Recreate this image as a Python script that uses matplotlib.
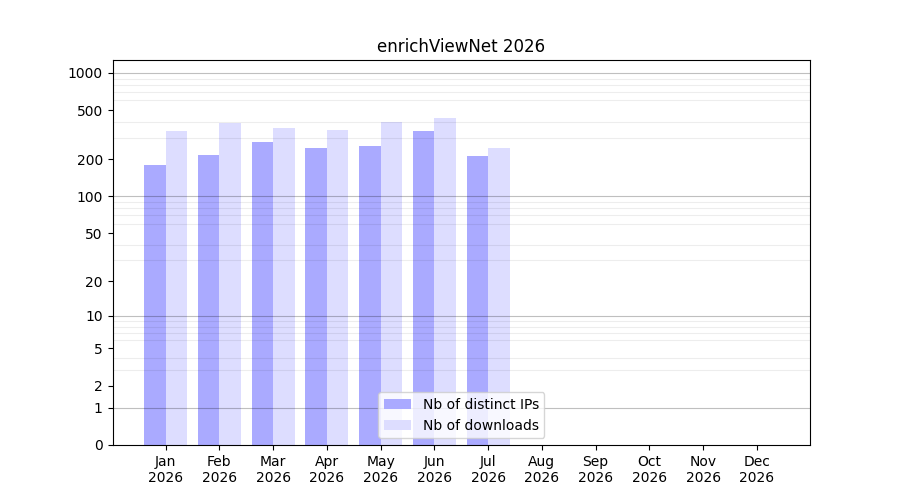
import numpy as np
import matplotlib
matplotlib.use("Agg")
import matplotlib.pyplot as plt
from matplotlib.ticker import FixedLocator

# data
months = ['Jan', 'Feb', 'Mar', 'Apr', 'May', 'Jun', 'Jul', 'Aug', 'Sep', 'Oct', 'Nov', 'Dec']
year = 2026
nb_ips = [180, 217, 277, 248, 257, 340, 213, 0, 0, 0, 0, 0]
nb_downloads = [340, 394, 359, 346, 401, 433, 248, 0, 0, 0, 0, 0]
ytick_vals = [0, 1, 2, 5, 10, 20, 50, 100, 200, 500, 1000]


def fwd(y):
    return np.log10(1 + np.clip(y, 0, None))


def inv(y):
    return 10 ** y - 1


fig, ax = plt.subplots(figsize=(9, 5), dpi=100)
x = np.arange(len(months))
w = 0.4
ax.bar(x - w / 2, nb_ips, w, color='#aaaaff', label='Nb of distinct IPs', zorder=1)
ax.bar(x + w / 2, nb_downloads, w, color='#ddddff', label='Nb of downloads', zorder=1)

ax.set_yscale('function', functions=(fwd, inv))
ax.set_ylim(0, 1270)
ax.yaxis.set_major_locator(FixedLocator(ytick_vals))
ax.set_yticklabels([str(v) for v in ytick_vals])

# light grid at every 1..9 x 10^k, darker at the decades
minor = [m * 10 ** k for k in range(3) for m in range(2, 10)]
ax.yaxis.set_minor_locator(FixedLocator(minor))
ax.tick_params(axis='y', which='minor', length=0)
ax.grid(True, axis='y', which='minor', color='black', alpha=0.07, lw=0.8, zorder=2)
for d in [1, 10, 100, 1000]:
    ax.axhline(d, color='black', alpha=0.25, lw=0.8, zorder=2)

ax.set_xticks(x)
ax.set_xticklabels([m + '\n' + str(year) for m in months])
ax.set_title('enrichViewNet ' + str(year))
ax.legend(loc='lower center')

plt.savefig('out.png')
